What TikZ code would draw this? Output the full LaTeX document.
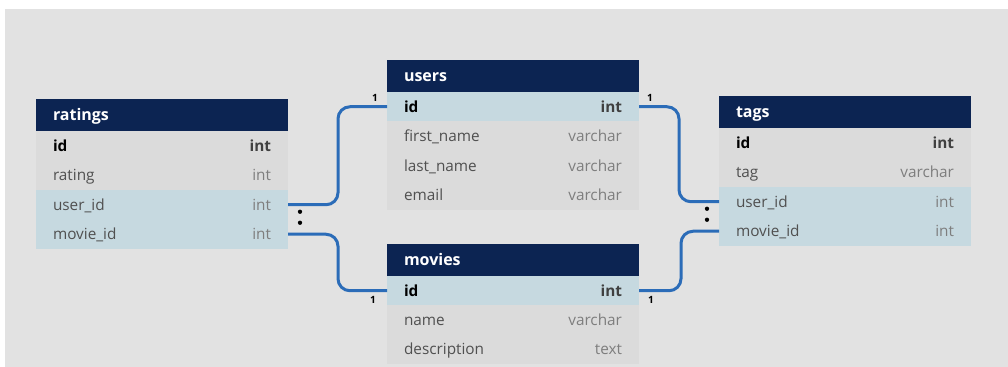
\documentclass[tikz,border=0pt]{standalone}
\usepackage{fontspec}
\setmainfont{Open Sans}
\usetikzlibrary{positioning}

\definecolor{navy}{HTML}{0C2452}
\definecolor{bggray}{HTML}{E2E2E2}
\definecolor{rowgray}{HTML}{DBDBDB}
\definecolor{keyblue}{HTML}{C6D9E0}
\definecolor{linkblue}{HTML}{2B6CB8}
\definecolor{fieldgray}{HTML}{505050}
\definecolor{typegray}{HTML}{7E7E7E}
\definecolor{pkgray}{HTML}{404040}

\newcommand\typ[1]{{\color{typegray}#1}}
\newcommand\pktyp[1]{{\color{pkgray}\bfseries#1}}
\newcommand\rowstrut{\rule[-2.4pt]{0pt}{13pt}}

\tikzset{
  tbl head/.style={fill=navy, text=white, font=\fontsize{12}{14}\selectfont\bfseries,
    minimum height=24pt, text width=163.5pt, inner xsep=12.75pt, inner ysep=0pt,
    anchor=north west, outer sep=0pt, execute at begin node=\rowstrut},
  tbl row/.style={fill=rowgray, text=fieldgray, font=\fontsize{11.5}{13}\selectfont,
    minimum height=22.125pt, text width=163.5pt, inner xsep=12.75pt, inner ysep=0pt,
    outer sep=0pt, execute at begin node=\rowstrut},
  pk/.style={text=black, font=\fontsize{11.5}{13}\selectfont\bfseries},
  fk/.style={fill=keyblue},
  link/.style={draw=linkblue, line width=2.25pt, rounded corners=9pt},
  card/.style={font=\fontsize{7.5}{9}\selectfont\bfseries, inner sep=0pt},
}

\begin{document}
\begin{tikzpicture}[x=0.75pt, y=-0.75pt, node distance=0pt]
  \useasboundingbox (0,0) rectangle (1008,367);
  \fill[bggray] (5,9) rectangle (1008,367);

  % ratings
  \node[tbl head] (r-head) at (36,99) {ratings};
  \node[tbl row, pk, below=of r-head] (r-id) {id\hfill\pktyp{int}};
  \node[tbl row, below=of r-id] (r-rating) {rating\hfill\typ{int}};
  \node[tbl row, fk, below=of r-rating] (r-user) {user\_id\hfill\typ{int}};
  \node[tbl row, fk, below=of r-user] (r-movie) {movie\_id\hfill\typ{int}};

  % users
  \node[tbl head] (u-head) at (387,60) {users};
  \node[tbl row, pk, fk, below=of u-head] (u-id) {id\hfill\pktyp{int}};
  \node[tbl row, below=of u-id] (u-first) {first\_name\hfill\typ{varchar}};
  \node[tbl row, below=of u-first] (u-last) {last\_name\hfill\typ{varchar}};
  \node[tbl row, below=of u-last] (u-email) {email\hfill\typ{varchar}};

  % movies
  \node[tbl head] (m-head) at (387,244) {movies};
  \node[tbl row, pk, fk, below=of m-head] (m-id) {id\hfill\pktyp{int}};
  \node[tbl row, below=of m-id] (m-name) {name\hfill\typ{varchar}};
  \node[tbl row, below=of m-name] (m-desc) {description\hfill\typ{text}};

  % tags
  \node[tbl head] (t-head) at (719,96) {tags};
  \node[tbl row, pk, below=of t-head] (t-id) {id\hfill\pktyp{int}};
  \node[tbl row, below=of t-id] (t-tag) {tag\hfill\typ{varchar}};
  \node[tbl row, fk, below=of t-tag] (t-user) {user\_id\hfill\typ{int}};
  \node[tbl row, fk, below=of t-user] (t-movie) {movie\_id\hfill\typ{int}};

  % relations
  \draw[link] (r-user.east) -- ++(50,0) |- (u-id.west);
  \draw[link] (r-movie.east) -- ++(50,0) |- (m-id.west);
  \draw[link] (u-id.east) -- ++(40,0) |- (t-user.west);
  \draw[link] (m-id.east) -- ++(42,0) |- (t-movie.west);

  % cardinalities
  \node[card] (c-ru) at ([shift={(-12,-9)}]u-id.west) {1};
  \node[card] (c-rm) at ([shift={(-14,9)}]m-id.west) {1};
  \node[card] (c-tu) at ([shift={(11,-9)}]u-id.east) {1};
  \node[card] (c-tm) at ([shift={(12,9)}]m-id.east) {1};
  \fill ([shift={(12,7)}]r-user.east) circle (1.6pt)
        ([shift={(12,18)}]r-user.east) circle (1.6pt);
  \fill ([shift={(-12,7)}]t-user.west) circle (1.6pt)
        ([shift={(-12,18)}]t-user.west) circle (1.6pt);
\end{tikzpicture}
\end{document}
